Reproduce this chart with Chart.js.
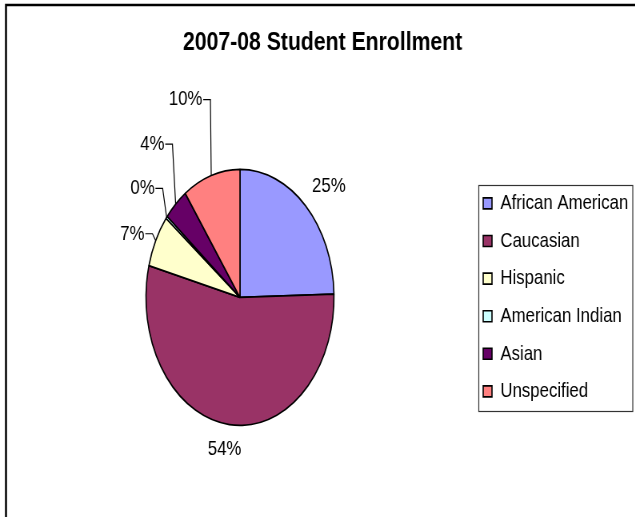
<!DOCTYPE html>
<html>
<head>
<meta charset="utf-8">
<script src="https://cdn.jsdelivr.net/npm/chart.js@4.4.1/dist/chart.umd.min.js"></script>
<style>
html, body { margin: 0; padding: 0; background: #fff; overflow: hidden; }
/* the source chart is squeezed sideways, text included */
#wrap { width: 794px; height: 517px; transform: scaleX(0.8); transform-origin: 0 0; }
canvas { display: block; }
</style>
</head>
<body>
<div id="wrap">
<canvas id="myChart" width="794" height="517"></canvas>
</div>
<script>
const groups = ['African American', 'Caucasian', 'Hispanic', 'American Indian', 'Asian', 'Unspecified'];
const shares = [24.6, 54.4, 6.6, 0.3, 4.2, 9.9];
const sliceColors = ['#9999ff', '#993366', '#ffffcc', '#ccffff', '#660066', '#ff8080'];
const chartTitle = '2007-08 Student Enrollment';

// where each percent label sits, measured from the slice's edge point
const labelSpots = [
    {dx: 29, dy: -20, leader: false},
    {dx: -6, dy: 25, leader: false},
    {dx: -4, dy: -7, leader: true},
    {dx: -5, dy: -29, leader: true},
    {dx: -4, dy: -60, leader: true},
    {dx: -1, dy: -76, leader: true}
];

// pie is still a bit taller than wide after the squeeze
const squash = 128 / 117.5;
const family = "'Liberation Sans', Arial, sans-serif";

const frame = {
    id: 'frame',
    beforeDraw(chart){
        const ctx = chart.ctx;
        ctx.save();
        ctx.fillStyle = '#fff';
        ctx.fillRect(0, 0, chart.width, chart.height);
        ctx.strokeStyle = '#000';
        ctx.lineWidth = 2.5;
        ctx.beginPath();
        ctx.moveTo(7.5, chart.height);
        ctx.lineTo(7.5, 5);
        ctx.lineTo(chart.width, 5);
        ctx.stroke();
        ctx.restore();
    },
    afterDraw(chart){
        // box round the legend
        const boxes = chart.legend.legendHitBoxes;
        const first = boxes[0];
        const last = boxes[boxes.length - 1];
        const ctx = chart.ctx;
        ctx.save();
        ctx.strokeStyle = '#333';
        ctx.lineWidth = 1.2;
        const left = Math.round(first.left - 6) + 0.5;
        const top = Math.round(first.top - 8) + 0.5;
        const bottom = Math.round(last.top + last.height + 9) + 0.5;
        ctx.strokeRect(left, top, chart.width - 3 - left, bottom - top);
        ctx.restore();
    }
};

const ellipse = {
    id: 'ellipse',
    beforeDatasetsDraw(chart){
        const arc = chart.getDatasetMeta(0).data[0];
        const ctx = chart.ctx;
        ctx.save();
        ctx.translate(arc.x, arc.y);
        ctx.scale(1, squash);
        ctx.translate(-arc.x, -arc.y);
    },
    afterDatasetsDraw(chart){
        chart.ctx.restore();
    }
};

const pctLabels = {
    id: 'pctLabels',
    afterDatasetsDraw(chart){
        const ctx = chart.ctx;
        const total = shares.reduce((a, b) => a + b, 0);
        ctx.save();
        ctx.font = '21px ' + family;
        ctx.fillStyle = '#000';
        ctx.strokeStyle = '#000';
        ctx.lineWidth = 1.2;
        ctx.textBaseline = 'middle';
        chart.getDatasetMeta(0).data.forEach((arc, i) => {
            const mid = (arc.startAngle + arc.endAngle) / 2;
            const ax = arc.x + arc.outerRadius * Math.cos(mid);
            const ay = arc.y + arc.outerRadius * squash * Math.sin(mid);
            const spot = labelSpots[i];
            const text = Math.round(shares[i] / total * 100) + '%';
            const ex = ax + spot.dx;
            const ey = ay + spot.dy;
            if (spot.leader) {
                ctx.beginPath();
                ctx.moveTo(ax, ay);
                ctx.lineTo(ex, ey);
                ctx.lineTo(ex - 9, ey);
                ctx.stroke();
                ctx.textAlign = 'right';
                ctx.fillText(text, ex - 10, ey);
            } else {
                ctx.textAlign = 'center';
                ctx.fillText(text, ex, ey);
            }
        });
        ctx.restore();
    }
};

Chart.defaults.color = '#000';
Chart.defaults.font.family = family;

new Chart(document.getElementById('myChart'), {
    type: 'pie',
    data: {
        labels: groups,
        datasets: [{
            data: shares,
            backgroundColor: sliceColors,
            borderColor: '#000',
            borderWidth: 1.6,
            radius: 117.5
        }]
    },
    options: {
        responsive: false,
        animation: false,
        devicePixelRatio: 1,
        layout: {
            padding: {left: 12.6, right: 0, top: 0, bottom: 0}
        },
        plugins: {
            title: {
                display: true,
                text: chartTitle,
                color: '#000',
                font: {family: family, size: 26.5, weight: 'bold'},
                padding: {top: 27, bottom: 19}
            },
            legend: {
                position: 'right',
                fullSize: false,
                maxWidth: 206.6,
                onClick: null,
                labels: {
                    color: '#000',
                    font: {family: family, size: 21},
                    boxWidth: 11,
                    boxHeight: 11,
                    padding: 16.6
                }
            },
            tooltip: {enabled: false}
        }
    },
    plugins: [frame, ellipse, pctLabels]
});
</script>
</body>
</html>
